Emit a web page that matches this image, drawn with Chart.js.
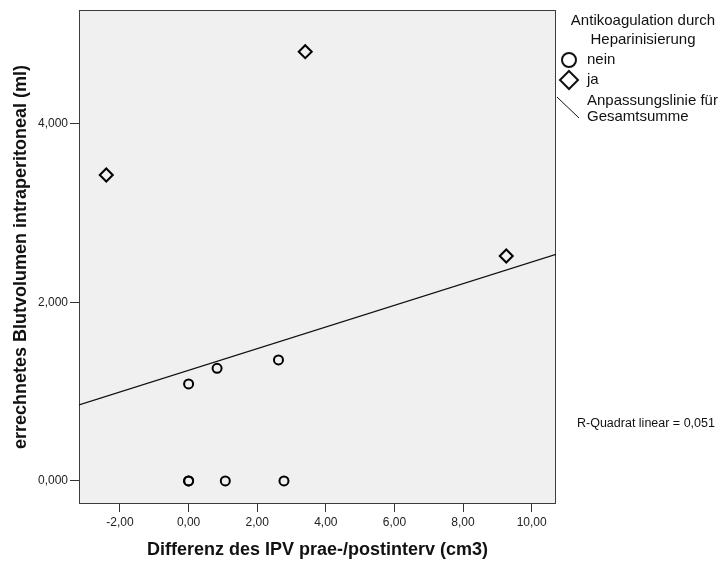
<!DOCTYPE html>
<html>
<head>
<meta charset="utf-8">
<script src="https://cdn.jsdelivr.net/npm/chart.js@4"></script>
<style>
  html, body { margin: 0; padding: 0; background: #fff; }
</style>
</head>
<body>
<canvas id="chart" width="724" height="561"></canvas>
<script>
// Antikoagulation durch Heparinisierung = nein
const neinX = [0, 0, 0.83, 2.62, 0, 1.07, 2.78];
const neinY = [1.087, 0, 1.262, 1.356, 0, 0, 0];
// Antikoagulation durch Heparinisierung = ja
const jaX = [-2.40, 3.40, 9.26];
const jaY = [3.428, 4.810, 2.521];
// Anpassungslinie (Gesamtsumme), endpoints read at the plot edges
const fitX = [-3.195, 10.71];
const fitY = [0.852, 2.540];
const xTicks = [-2, 0, 2, 4, 6, 8, 10];
const yTicks = [0, 2, 4];
const rSquaredText = 'R-Quadrat linear = 0,051';

const FONT = "'Liberation Sans', Arial, sans-serif";
const toPoints = (xs, ys) => xs.map((x, i) => ({ x: x, y: ys[i] }));

// grey plot background + frame
const framePlugin = {
  id: 'frame',
  beforeDatasetsDraw(chart) {
    const { ctx, chartArea: a } = chart;
    ctx.save();
    ctx.fillStyle = '#f0f0f0';
    ctx.fillRect(a.left, a.top, a.right - a.left, a.bottom - a.top);
    ctx.strokeStyle = '#3c3c3c';
    ctx.lineWidth = 1;
    ctx.strokeRect(a.left + 0.5, a.top + 0.5, a.right - a.left - 1, a.bottom - a.top - 1);
    ctx.restore();
  }
};

// SPSS-like legend at the right
const legendPlugin = {
  id: 'spssLegend',
  afterDraw(chart) {
    const ctx = chart.ctx;
    const ds = chart.data.datasets;
    ctx.save();
    ctx.fillStyle = '#111';
    ctx.strokeStyle = '#111';
    ctx.font = '15px ' + FONT;
    ctx.textBaseline = 'middle';
    ctx.textAlign = 'center';
    ctx.fillText('Antikoagulation durch', 643, 21);
    ctx.fillText('Heparinisierung', 643, 40);
    ctx.textAlign = 'left';

    ctx.lineWidth = 2;
    ctx.beginPath();
    ctx.arc(569, 60, 7, 0, Math.PI * 2);
    ctx.stroke();
    ctx.fillText(ds[1].label, 587, 60);

    ctx.beginPath();
    ctx.moveTo(569, 71); ctx.lineTo(578, 80); ctx.lineTo(569, 89); ctx.lineTo(560, 80);
    ctx.closePath();
    ctx.stroke();
    ctx.fillText(ds[2].label, 587, 80);

    ctx.lineWidth = 1;
    ctx.beginPath();
    ctx.moveTo(557, 97); ctx.lineTo(579, 118);
    ctx.stroke();
    ctx.fillText('Anpassungslinie für', 587, 101);
    ctx.fillText('Gesamtsumme', 587, 117);

    ctx.font = '12.5px ' + FONT;
    ctx.fillText(rSquaredText, 577, 424);
    ctx.restore();
  }
};

new Chart(document.getElementById('chart'), {
  type: 'scatter',
  data: {
    datasets: [
      {
        type: 'line',
        label: 'Anpassungslinie für Gesamtsumme',
        data: toPoints(fitX, fitY),
        borderColor: '#111',
        borderWidth: 1.3,
        pointRadius: 0,
        fill: false
      },
      {
        label: 'nein',
        data: toPoints(neinX, neinY),
        pointStyle: 'circle',
        radius: 4.5,
        borderWidth: 2,
        borderColor: '#000',
        backgroundColor: 'rgba(0,0,0,0)'
      },
      {
        label: 'ja',
        data: toPoints(jaX, jaY),
        pointStyle: 'rectRot',
        radius: 6.5,
        borderWidth: 2,
        borderColor: '#000',
        backgroundColor: 'rgba(0,0,0,0)'
      }
    ]
  },
  options: {
    responsive: false,
    animation: false,
    devicePixelRatio: 1,
    layout: { padding: { left: 0, top: 10, right: 168, bottom: 0 } },
    plugins: { legend: { display: false }, tooltip: { enabled: false } },
    scales: {
      x: {
        type: 'linear',
        min: -3.195,
        max: 10.71,
        afterBuildTicks: s => { s.ticks = xTicks.map(v => ({ value: v })); },
        afterFit: s => { s.height = 57; },
        ticks: {
          callback: v => v.toFixed(2).replace('.', ','),
          font: { family: FONT, size: 12 },
          color: '#222',
          padding: 3,
          maxRotation: 0
        },
        grid: { drawOnChartArea: false, tickLength: 8, color: '#333' },
        border: { display: false },
        title: {
          display: true,
          text: 'Differenz des IPV prae-/postinterv (cm3)',
          font: { family: FONT, size: 18, weight: 'bold' },
          color: '#111',
          padding: { top: 0, bottom: 0 }
        }
      },
      y: {
        type: 'linear',
        min: -0.258,
        max: 5.277,
        afterBuildTicks: s => { s.ticks = yTicks.map(v => ({ value: v })); },
        afterFit: s => { s.width = 79; },
        ticks: {
          callback: v => v.toFixed(3).replace('.', ','),
          font: { family: FONT, size: 12 },
          color: '#222',
          padding: 2
        },
        grid: { drawOnChartArea: false, tickLength: 9, color: '#333' },
        border: { display: false },
        title: {
          display: true,
          text: 'errechnetes Blutvolumen intraperitoneal (ml)',
          font: { family: FONT, size: 18, weight: 'bold' },
          color: '#111',
          padding: { top: 10, bottom: 0 }
        }
      }
    }
  },
  plugins: [framePlugin, legendPlugin]
});
</script>
</body>
</html>
